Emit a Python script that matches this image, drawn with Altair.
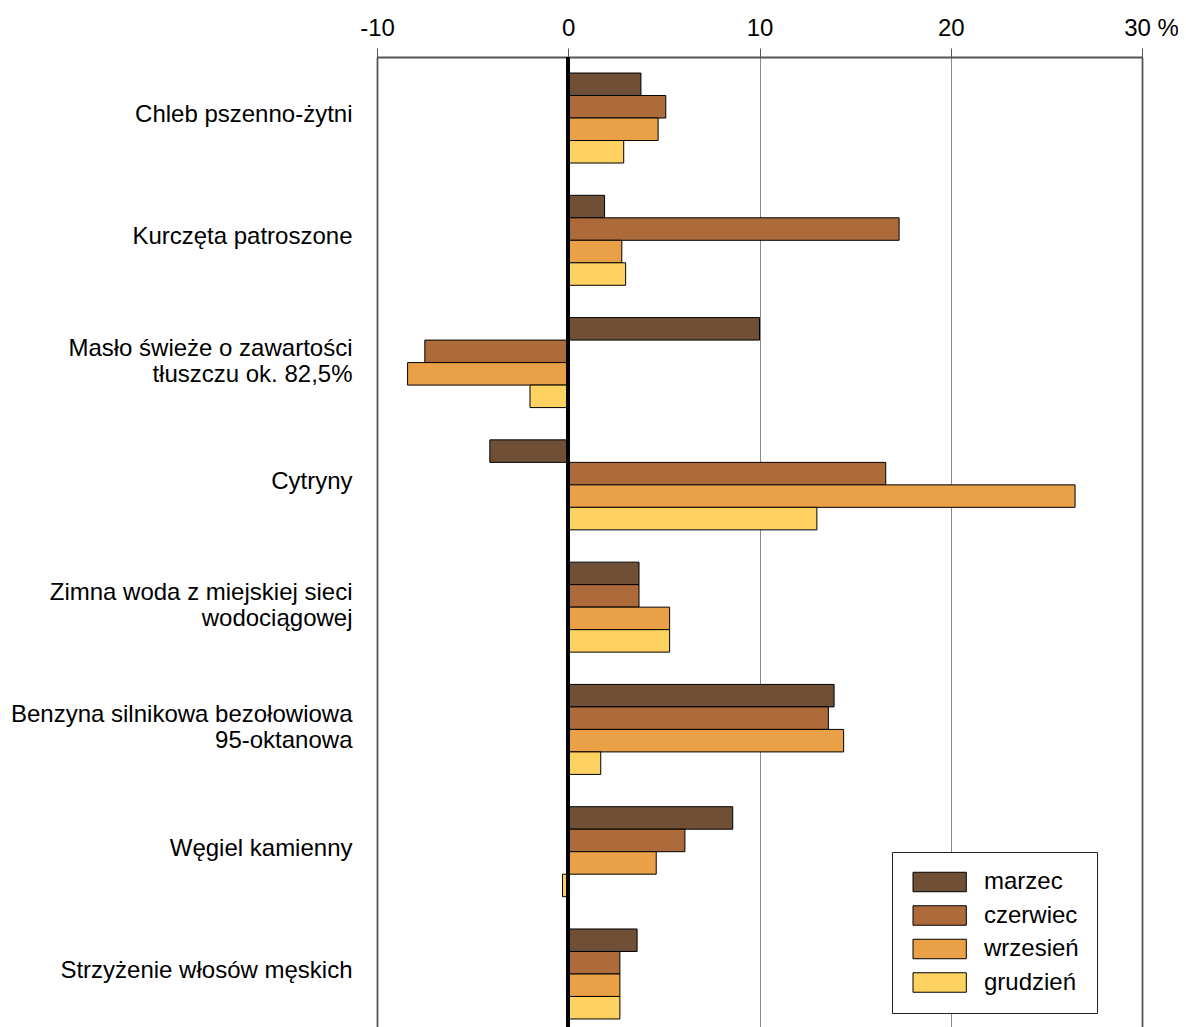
import altair as alt
import pandas as pd

categories = [
    "Chleb pszenno-żytni",
    "Kurczęta patroszone",
    "Masło świeże o zawartości\ntłuszczu ok. 82,5%",
    "Cytryny",
    "Zimna woda z miejskiej sieci\nwodociągowej",
    "Benzyna silnikowa bezołowiowa\n95-oktanowa",
    "Węgiel kamienny",
    "Strzyżenie włosów męskich",
]
months = ["marzec", "czerwiec", "wrzesień", "grudzień"]
marzec = [3.8, 1.9, 10.0, -4.1, 3.7, 13.9, 8.6, 3.6]
czerwiec = [5.1, 17.3, -7.5, 16.6, 3.7, 13.6, 6.1, 2.7]
wrzesien = [4.7, 2.8, -8.4, 26.5, 5.3, 14.4, 4.6, 2.7]
grudzien = [2.9, 3.0, -2.0, 13.0, 5.3, 1.7, -0.3, 2.7]
colors = ["#6F5036", "#AD6A3A", "#EAA046", "#FED260"]
x_ticks = [-10, 0, 10, 20, 30]

series = [marzec, czerwiec, wrzesien, grudzien]
rows = []
for m, vals in zip(months, series):
    for c, v in zip(categories, vals):
        rows.append({"kategoria": c, "miesiac": m, "wartosc": v})
df = pd.DataFrame(rows)

legend_path = "M-0.923,-1L4.545,-1L4.545,1L-0.923,1Z"
edge_test = "datum.value === -10 || datum.value === 30"

bars = alt.Chart().mark_bar(stroke="black", strokeWidth=1).encode(
    x=alt.X(
        "wartosc:Q",
        scale=alt.Scale(domain=[-10, 30], nice=False),
        axis=alt.Axis(
            orient="top",
            values=x_ticks,
            title=None,
            labelFontSize=24,
            labelColor="black",
            labelFlush=False,
            labelExpr="datum.value === 30 ? '30 %' : ('' + datum.value)",
            labelOffset={"condition": {"test": "datum.value === 30", "value": 9}, "value": 0},
            labelPadding=8,
            tickSize=9,
            tickColor="#555555",
            domainColor="#555555",
            domainWidth=2,
            grid=True,
            gridColor={"condition": {"test": edge_test, "value": "#555555"}, "value": "#8a8a8a"},
            gridWidth={"condition": {"test": edge_test, "value": 1.8}, "value": 1},
        ),
    ),
    y=alt.Y(
        "kategoria:N",
        sort=categories,
        scale=alt.Scale(paddingInner=0.264, paddingOuter=0.131),
        axis=alt.Axis(
            title=None,
            domain=False,
            ticks=False,
            grid=False,
            labelFontSize=24,
            labelColor="black",
            labelPadding=25,
            labelLimit=600,
            labelLineHeight=26,
            labelExpr="split(datum.label, '\\n')",
            labelOffset={
                "condition": {"test": "indexof(datum.label, '\\n') >= 0", "value": -14},
                "value": -3,
            },
        ),
    ),
    yOffset=alt.YOffset(
        "miesiac:N", sort=months, scale=alt.Scale(paddingInner=0, paddingOuter=0)
    ),
    color=alt.Color(
        "miesiac:N",
        sort=months,
        scale=alt.Scale(domain=months, range=colors),
        legend=alt.Legend(
            title=None,
            orient="none",
            legendX=515,
            legendY=795,
            fillColor="white",
            strokeColor="#222222",
            padding=18,
            symbolType=legend_path,
            symbolSize=380,
            symbolStrokeColor="black",
            symbolStrokeWidth=1,
            symbolOpacity=1,
            labelFontSize=24,
            labelColor="black",
            labelOffset=50,
            rowPadding=9.5,
        ),
    ),
)

zero_rule = alt.Chart().mark_rule(color="black", strokeWidth=3).encode(x=alt.datum(0))

chart = (
    alt.layer(bars, zero_rule, data=df)
    .properties(
        width=765,
        height=978,
        padding={"left": 369, "top": 49, "right": 36, "bottom": 0},
        autosize=alt.AutoSizeParams(type="none"),
    )
    .configure(font="Liberation Sans")
    .configure_view(strokeWidth=0)
)

chart.save("out.html", embed_options={"renderer": "svg", "actions": False})
